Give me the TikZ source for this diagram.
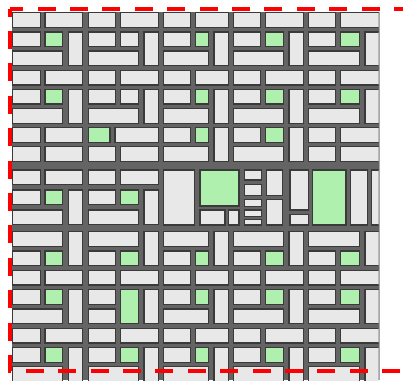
\documentclass[tikz,border=0pt]{standalone}
\usepackage{xcolor}
\usepackage{tikz}
\definecolor{gapgray}{HTML}{646464}
\definecolor{slab}{HTML}{E8E8E8}
\definecolor{slabedge}{HTML}{3A3A3A}
\definecolor{leaf}{HTML}{B0F0AE}
\definecolor{rim}{HTML}{A6A6A6}
\tikzset{
  cell/.style={draw=slabedge,fill=slab,line width=1.3pt},
  greencell/.style={cell,fill=leaf},
  ground/.style={fill=gapgray},
  rimline/.style={draw=rim,line width=1.3pt},
  frame/.style={draw=red,line width=4pt,dash pattern=on 18pt off 14.4pt,dash phase=10.2pt}
}
% row height of one slab
\newcommand{\slabh}{14.8}
% single rows of a tile: x0, top, width (, square style)
\newcommand{\slabA}[3]{%
  \draw[cell] (#1,{#2}) rectangle ({#1+27.5},{#2+\slabh});
  \draw[cell] ({#1+32.3},{#2}) rectangle ({#1+#3-5},{#2+\slabh});}
\newcommand{\slabB}[4]{%
  \draw[cell] (#1,{#2}) rectangle ({#1+27.5},{#2+\slabh});
  \draw[#4] ({#1+32.3},{#2}) rectangle ({#1+#3-25},{#2+\slabh});}
\newcommand{\slabC}[3]{%
  \draw[cell] (#1,{#2}) rectangle ({#1+#3-25},{#2+\slabh});}
% upright slab: x0, top, bottom, width
\newcommand{\slabV}[4]{%
  \draw[cell] ({#1+#4-19.3},{#2}) rectangle ({#1+#4-5},{#3});}
% tiles: x0, width, top, pitch, square style
\newcommand{\tileABC}[5]{%
  \slabA{#1}{#3}{#2}
  \slabB{#1}{#3+#4}{#2}{#5}
  \slabC{#1}{#3+2*#4}{#2}
  \slabV{#1}{#3+#4}{#3+2*#4+\slabh}{#2}}
\newcommand{\tileBC}[5]{%
  \slabB{#1}{#3}{#2}{#5}
  \slabC{#1}{#3+#4}{#2}
  \slabV{#1}{#3}{#3+#4+\slabh}{#2}}
\newcommand{\tileCB}[5]{%
  \slabC{#1}{#3}{#2}
  \slabB{#1}{#3+#4}{#2}{#5}
  \slabV{#1}{#3}{#3+#4+\slabh}{#2}}

\begin{document}
\begin{tikzpicture}[x=1pt,y=-1pt]
  \useasboundingbox (0,0) rectangle (403,380);
  \fill[ground] (11.7,11.7) rectangle (380,380);
  \begin{scope}
    \clip (11.7,11.7) rectangle (378.7,380);
    % upper blocks
    \foreach \x/\w/\s in {12.7/75/greencell,88.3/75/cell,163.3/70/greencell,233.3/75/greencell,308.3/76/greencell}{
      \tileABC{\x}{\w}{12.7}{19.15}{\s}
      \tileABC{\x}{\w}{70.15}{19.15}{\s}
    }
    % two-row strip
    \slabA{12.7}{127.6}{75}
    \slabA{12.7}{146.75}{75}
    \draw[greencell] (88.3,127.6) rectangle (110,142.4);
    \draw[cell] (115,127.6) rectangle (158.3,142.4);
    \slabA{88.3}{146.75}{75}
    \tileBC{163.3}{70}{127.6}{19.15}{greencell}
    \tileBC{233.3}{75}{127.6}{19.15}{greencell}
    \slabA{308.3}{127.6}{76}
    \slabA{308.3}{146.75}{76}
    % middle block
    \tileABC{12.7}{75}{170}{20}{greencell}
    \tileABC{88.3}{75}{170}{20}{greencell}
    \draw[cell] (163.3,170) rectangle (194.3,225);
    \draw[greencell] (200,170) rectangle (239,206);
    \draw[cell] (200,210) rectangle (225,225);
    \draw[cell] (228.3,210) rectangle (239,225);
    \foreach \t/\b in {170/180,184.3/195.7,199.3/206.7,210/216.7,219.3/225}{
      \draw[cell] (244.3,\t) rectangle (261.7,\b);
    }
    \draw[cell] (266.7,170) rectangle (282.7,195.7);
    \draw[cell] (266.7,199.3) rectangle (282.7,225);
    \draw[cell] (290,170) rectangle (308.3,210);
    \draw[cell] (290,214.3) rectangle (308.3,225);
    \draw[greencell] (312.7,170) rectangle (346,225);
    \draw[cell] (350.7,170) rectangle (367.3,225);
    \draw[cell] (371.7,170) rectangle (390,225);
    % lower blocks
    \foreach \x/\w in {12.7/75,88.3/75,163.3/70,233.3/75,308.3/76}{
      \tileCB{\x}{\w}{231.7}{19.29}{greencell}
      \slabA{\x}{270.28}{\w}
      \slabA{\x}{328.15}{\w}
      \tileBC{\x}{\w}{347.44}{19.29}{greencell}
    }
    \foreach \x/\w in {12.7/75,163.3/70,233.3/75,308.3/76}{
      \tileBC{\x}{\w}{289.57}{19.29}{greencell}
    }
    \draw[cell] (88.3,289.57) rectangle (115.8,304.37);
    \draw[cell] (88.3,308.86) rectangle (115.8,323.66);
    \draw[greencell] (120.6,289.57) rectangle (138.3,323.66);
    \slabV{88.3}{289.57}{323.66}{75}
  \end{scope}
  \draw[rimline] (379.35,11.7) -- (379.35,380);
  \draw[frame] (9.5,8.7) rectangle (410.35,371);
\end{tikzpicture}
\end{document}
